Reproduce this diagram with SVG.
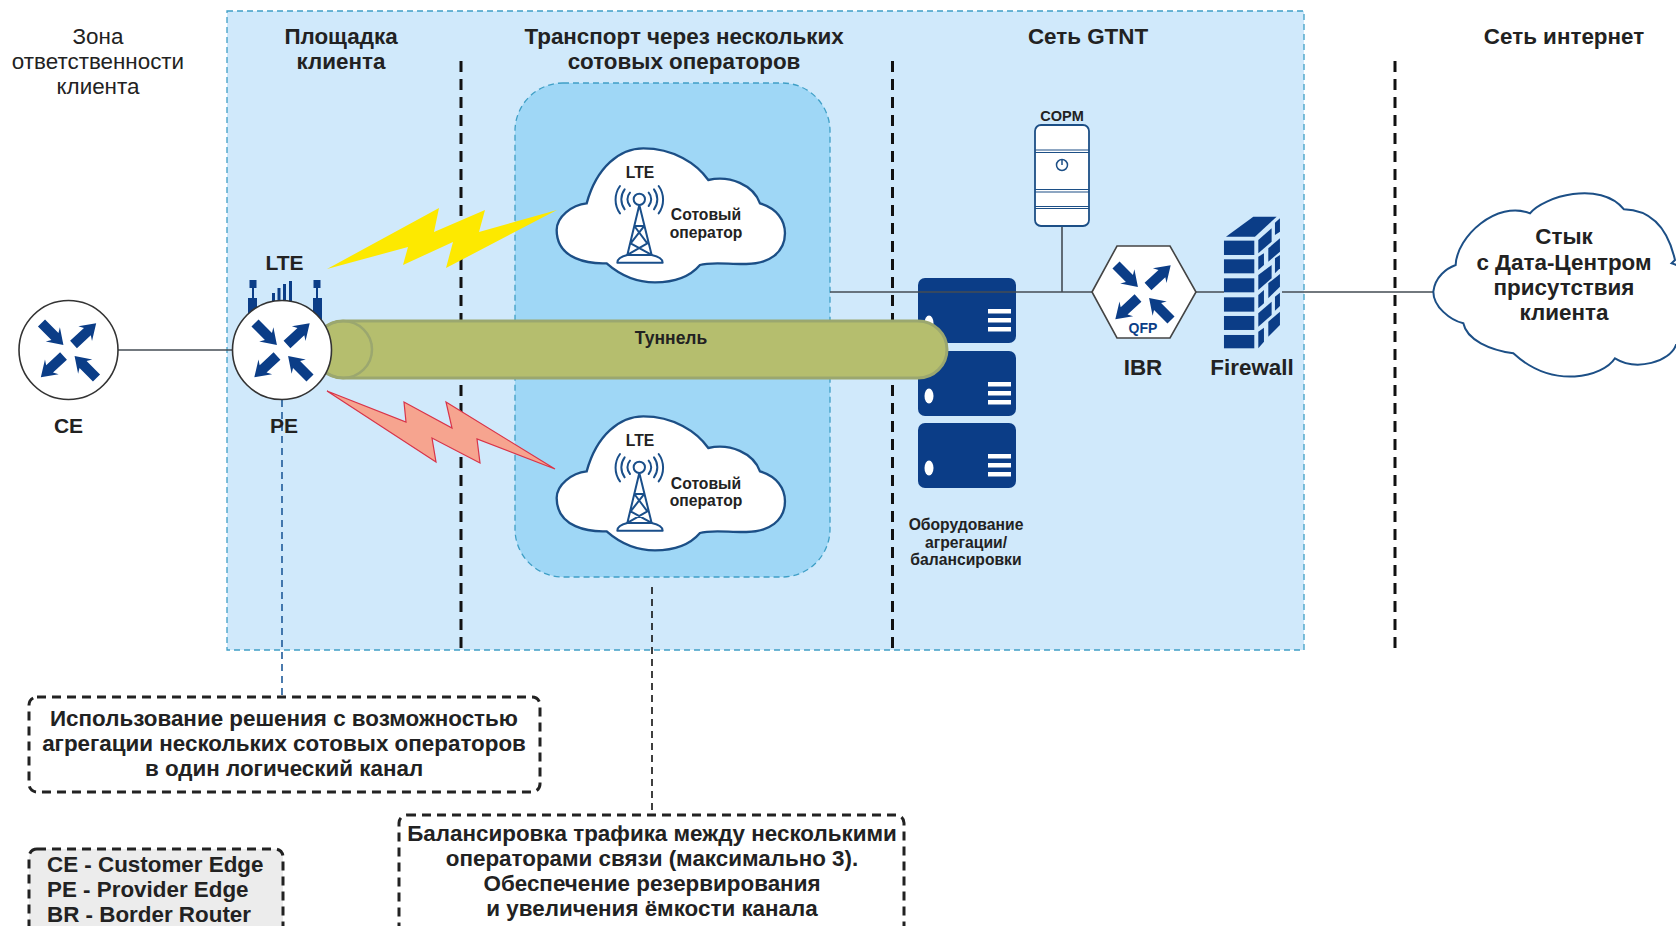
<svg xmlns="http://www.w3.org/2000/svg" xmlns:xlink="http://www.w3.org/1999/xlink" width="1676" height="926" viewBox="0 0 1676 926">
<style>
text{font-family:"Liberation Sans",Arial,sans-serif;fill:#222;text-anchor:middle}
.b{font-weight:700}
.h{font-size:22.4px;font-weight:700}
.r{font-size:22.4px}
.s{font-size:15.7px;font-weight:700}
.n{font-size:21px;font-weight:700}
.blue{fill:#0b3d87}
.w{fill:#fff}
.thin{stroke:#444c54;stroke-width:1.6;fill:none}
.div{stroke:#111;stroke-width:3;stroke-dasharray:11 7;fill:none}
.box{stroke:#222;stroke-width:3;stroke-dasharray:9 6;fill:#fff}
.tw{fill:none;stroke:#1a4f8a;stroke-width:6;stroke-linecap:round;stroke-linejoin:round}
.rt{fill:#fff;stroke:#333;stroke-width:1.6}
</style>
<defs>
<path id="arr" class="blue" d="M0,-5H19L16,-10L31,0L16,10L19,5H0Z"/>
<g id="arrows">
<use xlink:href="#arr" href="#arr" transform="translate(-27,-27) rotate(45)"/>
<use xlink:href="#arr" href="#arr" transform="translate(5,-5.5) rotate(-43)"/>
<use xlink:href="#arr" href="#arr" transform="translate(-5,6) rotate(137)"/>
<use xlink:href="#arr" href="#arr" transform="translate(28,28) rotate(225)"/>
</g>
<g id="lteCloud">
<path d="M50,330C50,290 95,255 140,250C170,140 240,85 310,85C400,85 470,130 505,180C570,165 640,195 660,250C710,265 735,300 735,340C735,395 690,435 610,432C560,432 510,425 480,435C450,470 400,487 345,487C290,487 240,465 200,430C150,432 50,420 50,330Z" fill="#fff" stroke="#1c4f86" stroke-width="7"/>
<g class="tw">
<circle cx="298" cy="238" r="17"/>
<path d="M270,218A30,30 0 0 0 270,258M254,208A50,50 0 0 0 254,268M240,198A70,70 0 0 0 240,280M326,218A30,30 0 0 1 326,258M342,208A50,50 0 0 1 342,268M356,198A70,70 0 0 1 356,280"/>
<path d="M298,255L262,405M298,255L335,405M283,318H313M283,318L322,370M313,318L272,370M272,370L335,405M322,370L262,405"/>
<path d="M232,428Q232,412 262,405H335Q368,412 368,428Z"/>
</g>
</g>
<g id="server">
<rect x="0" y="0" width="98" height="65" rx="7" class="blue"/>
<ellipse cx="11" cy="45" rx="4.500" ry="7.500" class="w"/>
<rect x="70" y="31" width="23" height="4.500" class="w"/>
<rect x="70" y="40" width="23" height="4.500" class="w"/>
<rect x="70" y="49" width="23" height="4.500" class="w"/>
</g>
</defs>

<g id="panels">
<rect x="227" y="11" width="1077" height="639" fill="#d0e9fb" stroke="#3f9fc6" stroke-width="1.300" stroke-dasharray="6 4"/>
<rect x="515" y="83" width="315" height="494" rx="48" fill="#9fd7f6" stroke="#3f9fc6" stroke-width="1.300" stroke-dasharray="6 4"/>
<path class="div" d="M461,61V650M892.500,61V650M1395,61V650"/>
</g>

<g id="connectors">
<path class="thin" d="M118,350H232"/>
<path d="M282,400V697" fill="none" stroke="#1f5a9a" stroke-width="1.600" stroke-dasharray="7 5"/>
<path d="M652,587V815" fill="none" stroke="#111" stroke-width="1.600" stroke-dasharray="7 5"/>
</g>

<g id="bolts">
<polygon points="327,269 439,208 434,232 485,210 479,232 557,210 446,268 453,242 403,265 408,247" fill="#fde900"/>
<polygon points="327,391 406,422 404,402 452,428 446,402 555,469 477,439 480,463 432,438 436,462" fill="#f6a48f" stroke="#d8344a" stroke-width="1.200"/>
</g>

<g id="cloud-top"><use xlink:href="#lteCloud" href="#lteCloud" transform="translate(540,120) scale(.3333)"/>
<text class="s" x="640" y="178">LTE</text>
<text class="s" x="706" y="220">Сотовый</text>
<text class="s" x="706" y="238">оператор</text></g>
<g id="cloud-bottom"><use xlink:href="#lteCloud" href="#lteCloud" transform="translate(540,388) scale(.3333)"/>
<text class="s" x="640" y="446">LTE</text>
<text class="s" x="706" y="489">Сотовый</text>
<text class="s" x="706" y="506">оператор</text></g>

<g id="balancer">
<use xlink:href="#server" href="#server" x="918" y="278"/>
<use xlink:href="#server" href="#server" x="918" y="351"/>
<use xlink:href="#server" href="#server" x="918" y="423"/>
<text class="s" x="966" y="530">Оборудование</text>
<text class="s" x="966" y="548">агрегации/</text>
<text class="s" x="966" y="565">балансировки</text>
</g>

<g id="connectors-top">
<path class="thin" d="M830,292H1092M1062,226V292M1196,292H1224M1282,292H1436"/>
</g>

<g id="tunnel">
<path d="M343,321H918A29,28.500 0 0 1 918,378H343A29,28.500 0 0 1 343,321Z" fill="#b5be6e" stroke="#9ba76f" stroke-width="3"/>
<ellipse cx="343" cy="349.500" rx="29" ry="28.500" fill="none" stroke="#9ba76f" stroke-width="2.500"/>
<text class="b" font-size="17.500" x="671" y="344">Туннель</text>
</g>

<g id="ce">
<circle class="rt" cx="68.500" cy="350" r="49.500"/>
<use xlink:href="#arrows" href="#arrows" transform="translate(68.500,350)"/>
<text class="n" x="68.500" y="433">CE</text>
</g>
<g id="pe">
<g class="blue">
<rect x="249.500" y="280" width="7" height="8"/><rect x="252" y="288" width="2" height="12"/><rect x="248" y="298" width="9" height="22"/>
<rect x="313.500" y="280" width="7" height="8"/><rect x="316" y="288" width="2" height="12"/><rect x="313" y="298" width="9" height="22"/>
<rect x="272" y="293" width="3" height="12"/><rect x="277.500" y="288" width="3" height="17"/><rect x="283" y="284" width="3" height="21"/><rect x="289" y="281" width="3" height="24"/>
</g>
<circle class="rt" cx="282" cy="350" r="49.500"/>
<use xlink:href="#arrows" href="#arrows" transform="translate(282,350)"/>
<text class="b" font-size="21" x="284.500" y="270">LTE</text>
<text class="n" x="284" y="433">PE</text>
</g>

<g id="copm">
<rect x="1035" y="125" width="54" height="101" rx="6" fill="#fff" stroke="#1c4f86" stroke-width="1.800"/>
<path d="M1035,150H1089M1035,152.500H1089M1035,189.500H1089M1035,192H1089M1035,206.500H1089M1035,208.500H1089" stroke="#1c4f86" stroke-width="1.200" fill="none"/>
<circle cx="1062" cy="165" r="5.500" fill="none" stroke="#1c4f86" stroke-width="1.500"/><path d="M1062,159V165" stroke="#1c4f86" stroke-width="1.500"/>
<text class="b" font-size="14.500" x="1062" y="121">COPM</text>
</g>

<g id="ibr">
<polygon points="1092,292 1117,246 1170,246 1196,292 1170,338 1117,338" fill="#fff" stroke="#444" stroke-width="1.600"/>
<use xlink:href="#arrows" href="#arrows" transform="translate(1143,292)"/>
<text class="b" font-size="14" x="1143" y="333" style="fill:#0b3d87">QFP</text>
<text class="b" font-size="22.400" x="1143" y="375">IBR</text>
</g>

<g id="firewall">
<g class="blue" transform="translate(900,100) scale(.3333)">
<rect x="972" y="422" width="91" height="43"/><rect x="972" y="478" width="91" height="42"/><rect x="972" y="535" width="91" height="42"/><rect x="972" y="592" width="91" height="43"/><rect x="972" y="648" width="91" height="42"/><rect x="972" y="705" width="91" height="40"/>
<polygon points="978,410 1060,350 1130,350 1065,410"/>
<polygon points="1125,368 1140,355 1140,395 1125,405"/>
<polygon points="1075,420 1115,385 1115,425 1075,460"/>
<polygon points="1105,445 1140,415 1140,455 1105,485"/>
<polygon points="1075,470 1092,460 1092,495 1075,510"/>
<polygon points="1125,475 1140,465 1140,505 1125,520"/>
<polygon points="1075,525 1115,495 1115,535 1075,570"/>
<polygon points="1105,550 1140,522 1140,560 1105,595"/>
<polygon points="1075,585 1092,570 1092,610 1075,625"/>
<polygon points="1125,590 1140,578 1140,618 1125,632"/>
<polygon points="1075,640 1115,605 1115,645 1075,680"/>
<polygon points="1105,665 1140,635 1140,675 1105,710"/>
<polygon points="1075,695 1092,683 1092,725 1075,745"/>
</g>
<text class="b" font-size="22.400" x="1252" y="375">Firewall</text>
</g>

<g id="dc-cloud">
<path fill="#fff" stroke="#1c4f86" stroke-width="6" transform="translate(1420,180) scale(.3333)" d="M40,335C45,290 80,265 107,255C110,170 230,60 330,100C370,50 540,0 612,88C680,90 740,130 765,240L755,250C790,260 840,300 840,370C840,430 800,490 768,495C750,545 650,575 585,535C550,590 400,630 280,520C210,510 140,480 130,430C90,420 40,380 40,335Z"/>
<text class="h" x="1564" y="244">Стык</text>
<text class="h" x="1564" y="270">с Дата-Центром</text>
<text class="h" x="1564" y="295">присутствия</text>
<text class="h" x="1564" y="320">клиента</text>
</g>

<g id="headers">
<text class="r" x="98" y="44">Зона</text>
<text class="r" x="98" y="69">ответственности</text>
<text class="r" x="98" y="94">клиента</text>
<text class="h" x="341" y="44">Площадка</text>
<text class="h" x="341" y="69">клиента</text>
<text class="h" x="684" y="44">Транспорт через нескольких</text>
<text class="h" x="684" y="69">сотовых операторов</text>
<text class="h" x="1088" y="44">Сеть GTNT</text>
<text class="h" x="1564" y="44">Сеть интернет</text>
</g>

<g id="note-aggregation">
<rect class="box" x="29" y="697" width="511" height="95" rx="8"/>
<text class="h" x="284" y="726">Использование решения с возможностью</text>
<text class="h" x="284" y="751">агрегации нескольких сотовых операторов</text>
<text class="h" x="284" y="776">в один логический канал</text>
</g>
<g id="note-balancing">
<rect class="box" x="399" y="815" width="505" height="140" rx="8"/>
<text class="h" x="652" y="841">Балансировка трафика между несколькими</text>
<text class="h" x="652" y="866">операторами связи (максимально 3).</text>
<text class="h" x="652" y="891">Обеспечение резервирования</text>
<text class="h" x="652" y="916">и увеличения ёмкости канала</text>
</g>
<g id="legend">
<rect class="box" style="fill:#ececec" x="29" y="849" width="254" height="110" rx="8"/>
<text class="h" style="text-anchor:start" x="47" y="872">CE - Customer Edge</text>
<text class="h" style="text-anchor:start" x="47" y="897">PE - Provider Edge</text>
<text class="h" style="text-anchor:start" x="47" y="922">BR - Border Router</text>
</g>
</svg>
